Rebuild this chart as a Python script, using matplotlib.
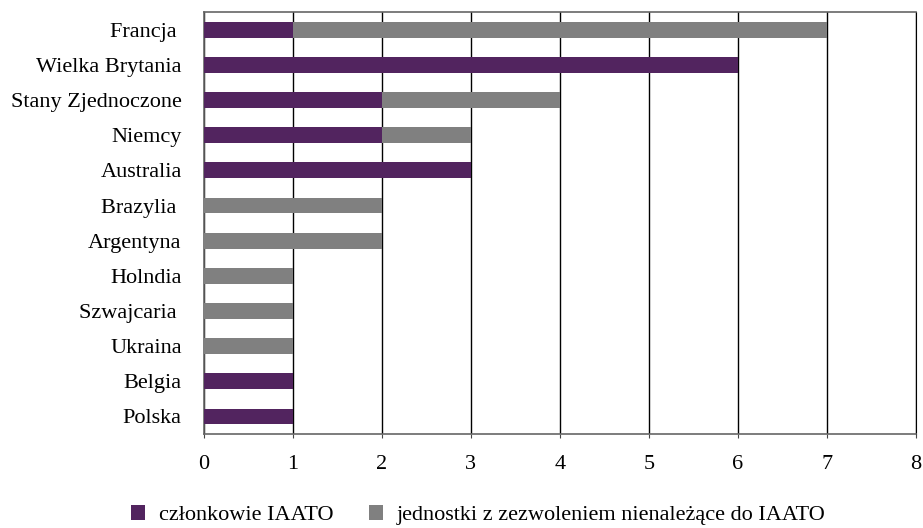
import matplotlib.pyplot as plt

plt.rcParams['font.family'] = ['Liberation Serif', 'DejaVu Serif']

countries = ["Francja ", "Wielka Brytania", "Stany Zjednoczone", "Niemcy", "Australia",
             "Brazylia ", "Argentyna", "Holndia", "Szwajcaria ", "Ukraina", "Belgia", "Polska"]
members = [1, 6, 2, 2, 3, 0, 0, 0, 0, 0, 1, 1]
non_members = [6, 0, 2, 1, 0, 2, 2, 1, 1, 1, 0, 0]

purple = "#52245f"
gray = "#808080"

fig = plt.figure(figsize=(9.23, 5.28), dpi=100)
ax = fig.add_axes([0.221, 0.178, 0.771, 0.799])

y = range(len(countries))
ax.barh(y, members, height=0.45, color=purple, label="członkowie IAATO", zorder=3)
ax.barh(y, non_members, left=members, height=0.45, color=gray,
        label="jednostki z zezwoleniem nienależące do IAATO", zorder=3)

ax.set_xlim(0, 8)
ax.set_ylim(len(countries) - 0.5, -0.5)
ax.set_yticks(list(y))
ax.set_yticklabels(countries, fontsize=16)
ax.set_xticks(range(9))
ax.tick_params(axis='x', labelsize=16, length=3, pad=12, color="#444444")
ax.tick_params(axis='y', length=0, pad=16)
ax.grid(axis='x', color='black', linewidth=1, zorder=1)

for side in ['left', 'bottom', 'top']:
    ax.spines[side].set_color('#666666')
    ax.spines[side].set_linewidth(1.2)
ax.spines['right'].set_color('black')

fig.legend(loc='center', bbox_to_anchor=(0.518, 0.025), ncol=2, frameon=False,
           fontsize=16, handlelength=0.65, handleheight=0.65, columnspacing=1.6,
           handletextpad=0.6, borderpad=0)

fig.savefig("out.png", dpi=100)
